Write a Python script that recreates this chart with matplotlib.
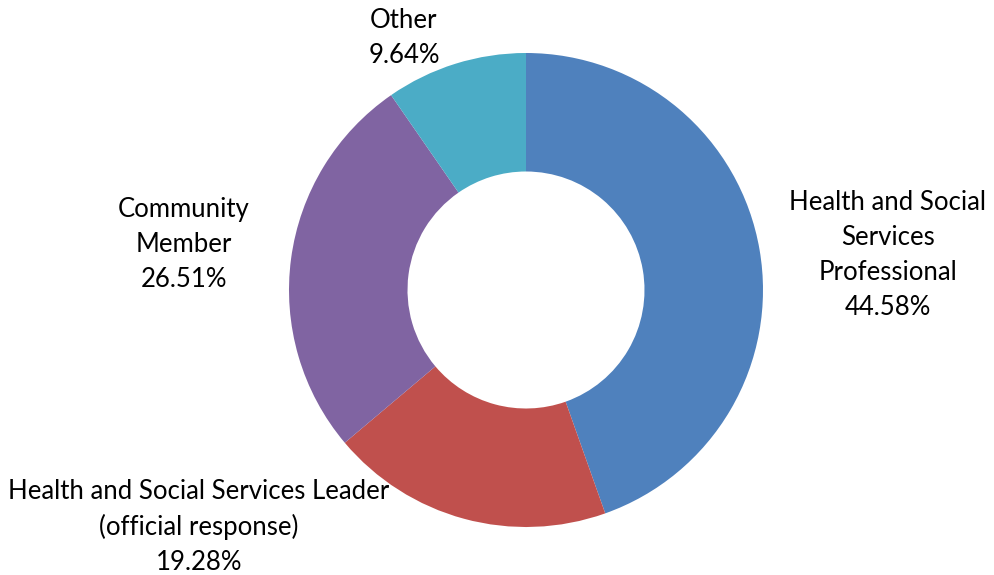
import matplotlib
matplotlib.use("Agg")
import matplotlib.pyplot as plt
import numpy as np

categories = ["Health and Social\nServices\nProfessional",
              "Health and Social Services Leader\n(official response)",
              "Community\nMember",
              "Other"]
values = [44.58, 19.28, 26.51, 9.64]
colors = ["#4F81BD", "#C0504D", "#8064A2", "#4BACC6"]
# label positions (in radius units, relative to the centre)
label_pos = [(1.527, 0.148), (-1.38, -1.0), (-1.443, 0.19), (-0.515, 1.063)]

plt.rcParams['font.family'] = ['Lato', 'DejaVu Sans']

fig = plt.figure(figsize=(9.95, 5.75), dpi=100)
ax = fig.add_axes([0, 0, 1, 1])
ax.pie(values, colors=colors, startangle=90, counterclock=False,
       radius=1.0, wedgeprops=dict(width=0.5, edgecolor='none'))
for cat, v, (x, y) in zip(categories, values, label_pos):
    ax.text(x, y, f"{cat}\n{v:.2f}%", ha='center', va='center',
            fontsize=18.5, linespacing=1.5, color='black')

ax.set_xlim(-526/237, 469/237)
ax.set_ylim(-285/237, 290/237)
ax.set_aspect('equal')
ax.axis('off')
fig.savefig("out.png", dpi=100)
